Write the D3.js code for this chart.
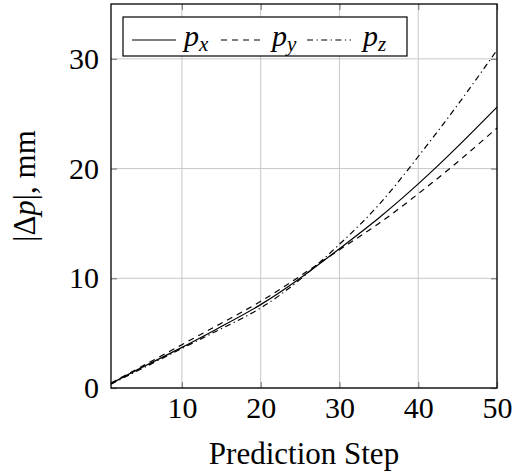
<!DOCTYPE html>
<html>
<head>
<meta charset="utf-8">
<script src="https://cdn.jsdelivr.net/npm/d3@7"></script>
</head>
<body style="margin:0;background:#fff">
<figure id="errorPlot" style="margin:0"></figure>
<script>
// values
var steps = [1, 5, 10, 15, 20, 25, 30, 35, 40, 45, 50];
var px = [0.4, 1.9, 3.7, 5.6, 7.6, 10.0, 12.7, 15.5, 18.6, 22.0, 25.6];
var py = [0.45, 2.0, 3.95, 5.9, 7.9, 10.2, 12.6, 15.0, 17.7, 20.6, 23.7];
var pz = [0.35, 1.8, 3.6, 5.4, 7.3, 9.9, 13.1, 16.7, 21.1, 25.8, 30.8];
var xTicks = [10, 20, 30, 40, 50];
var yTicks = [0, 10, 20, 30];
var seriesNames = ["x", "y", "z"];

var serif = "Liberation Serif";

// set the dimensions and margins of the graph
var margin = {top: 4, right: 26, bottom: 87, left: 111},
  width = 523 - margin.left - margin.right,
  height = 475 - margin.top - margin.bottom;

var svg = d3.select("figure#errorPlot")
.append("svg")
  .attr("width", width + margin.left + margin.right)
  .attr("height", height + margin.top + margin.bottom)
.append("g")
  .attr("transform", "translate(" + margin.left + "," + margin.top + ")");

var x = d3.scaleLinear().domain([1, 50]).range([0, width]);
var y = d3.scaleLinear().domain([0, 35]).range([height, 0]);

// grid
svg.append("g").selectAll("line").data(xTicks).enter().append("line")
  .attr("x1", function(d) { return x(d); }).attr("x2", function(d) { return x(d); })
  .attr("y1", 0).attr("y2", height)
  .attr("stroke", "#c8c8c8").attr("stroke-width", 1);
svg.append("g").selectAll("line").data(yTicks).enter().append("line")
  .attr("x1", 0).attr("x2", width)
  .attr("y1", function(d) { return y(d); }).attr("y2", function(d) { return y(d); })
  .attr("stroke", "#c8c8c8").attr("stroke-width", 1);

// inward ticks on all four sides
var tl = 6;
function tickStyle(g) {
  g.selectAll(".domain").remove();
  g.selectAll(".tick line").attr("stroke", "#808080").attr("stroke-width", 1.2);
  g.selectAll("text").remove();
}
svg.append("g").attr("transform", "translate(0," + height + ")")
  .call(d3.axisTop(x).tickValues(xTicks).tickSize(tl)).call(tickStyle);
svg.append("g")
  .call(d3.axisBottom(x).tickValues(xTicks).tickSize(tl)).call(tickStyle);
svg.append("g")
  .call(d3.axisRight(y).tickValues(yTicks).tickSize(tl)).call(tickStyle);
svg.append("g").attr("transform", "translate(" + width + ",0)")
  .call(d3.axisLeft(y).tickValues(yTicks).tickSize(tl)).call(tickStyle);

// tick labels
function labelStyle(g) {
  g.select(".domain").remove();
  g.selectAll("text").attr("fill", "#000")
    .style("font-family", serif).style("font-size", "30px");
}
svg.append("g").attr("transform", "translate(0," + height + ")")
  .call(d3.axisBottom(x).tickValues(xTicks).tickSize(0).tickPadding(9))
  .call(labelStyle);
svg.append("g")
  .call(d3.axisLeft(y).tickValues(yTicks).tickSize(0).tickPadding(12))
  .call(labelStyle);

// curves
var styles = [null, "6,5", "6,3.5,1.2,3.5"];
var line = d3.line()
  .x(function(d) { return x(d[0]); })
  .y(function(d) { return y(d[1]); })
  .curve(d3.curveNatural);
[px, py, pz].forEach(function(vals, i) {
  svg.append("path")
    .datum(steps.map(function(s, j) { return [s, vals[j]]; }))
    .attr("fill", "none")
    .attr("stroke", "#000")
    .attr("stroke-width", 1.2)
    .attr("stroke-dasharray", styles[i])
    .attr("d", line);
});

// frame
svg.append("rect")
  .attr("width", width).attr("height", height)
  .attr("fill", "none").attr("stroke", "#000").attr("stroke-width", 1.3);

// axis titles
svg.append("text")
  .attr("x", width / 2).attr("y", height + 76)
  .attr("text-anchor", "middle")
  .style("font-family", serif).style("font-size", "31px")
  .text("Prediction Step");
var yl = svg.append("text")
  .attr("transform", "translate(-76," + (height / 2 - 10) + ") rotate(-90)")
  .attr("text-anchor", "middle")
  .style("font-family", serif).style("font-size", "31px");
yl.append("tspan").text("|Δ");
yl.append("tspan").style("font-style", "italic").text("p");
yl.append("tspan").text("|, mm");

// legend
var lg = svg.append("g").attr("transform", "translate(12,13)");
lg.append("rect").attr("width", 284).attr("height", 39)
  .attr("fill", "#fff").attr("stroke", "#000").attr("stroke-width", 1.2);
var lineX = [9, 98, 184];
var textX = [61, 149, 240];
seriesNames.forEach(function(n, i) {
  lg.append("line")
    .attr("x1", lineX[i]).attr("x2", lineX[i] + 44)
    .attr("y1", 23).attr("y2", 23)
    .attr("stroke", "#000").attr("stroke-width", 1.2)
    .attr("stroke-dasharray", styles[i]);
  var t = lg.append("text").attr("x", textX[i]).attr("y", 29)
    .style("font-family", serif).style("font-size", "30px").style("font-style", "italic");
  t.append("tspan").text("p");
  t.append("tspan").attr("dy", 5).style("font-size", "21px").text(n);
});
</script>
</body>
</html>
